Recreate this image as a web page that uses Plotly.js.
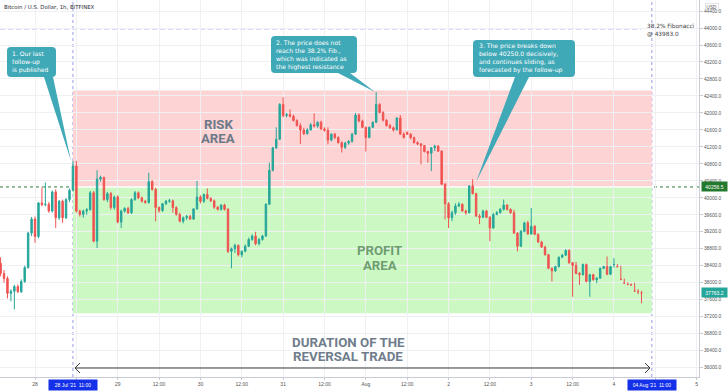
<!DOCTYPE html>
<html><head><meta charset="utf-8">
<script src="https://cdn.plot.ly/plotly-3.0.1.min.js"></script>
<style>html,body{margin:0;padding:0;background:#fff}#chart{width:728px;height:391px}</style>
</head><body><div id="chart"></div>
<script>
// ---- DATA: hourly BTC/USD candles, first candle 27 Jul 2021 14:00 ----
const firstCandle = '2021-07-27T14:00:00Z';
const open = [
38460,38220,38100,37750,37800,37910,37790,38030,38360,39170,39500,39090,39880,39840,39850,39690,40140,39530,39920,39530,39960,40180,40750,39690,39610,39690,39720,40120,38980,40440,40480,39960,40100,39770,40020,39430,39690,39750,39650,39960,40120,40000,39920,39890,40380,40200,39770,39700,39860,39920,39930,39770,39610,
39450,39530,39560,39500,39740,40020,39920,40080,39990,39930,39780,39730,39830,39730,38740,38800,38880,38660,38740,38860,39020,39100,38920,39020,39100,39850,40650,41180,41380,42200,41940,41960,41920,41820,41700,41600,41510,41600,41720,41690,41780,41620,41590,41360,41500,41420,41300,41190,41290,41330,41500,41950,41810,41660,41420,41660,41780,42200,42010,41830,41700,41650,41600,41880,41500,41540,41500,41420,41300,41270,41230,41090,41050,41180,41220,
41100,40320,39860,39530,39650,39810,39850,39690,39650,40280,40100,39570,39540,39690,39540,39290,39610,39650,39730,39830,39730,39650,39170,38860,39210,39410,39150,39330,39140,38960,38840,38660,38340,38280,38380,38600,38650,38760,38470,38410,38220,38190,38430,38030,38190,38070,38110,38340,38380,38200,38430,38380,38080,37990,37960,37950,37810,37790,37760
];
const high = [
38600,38300,38150,37850,37950,37960,38080,38400,39200,39550,39560,39900,40240,40360,39900,40170,40200,39950,39960,39990,40220,40870,40870,39720,39720,39760,40160,40160,40650,40520,40500,40140,40140,40050,40060,39720,39780,39790,39990,40160,40150,40030,39950,40590,40420,40240,39800,39880,39950,39980,39960,39800,39650,
39560,39600,39600,39760,40400,40060,40100,40220,40010,39960,39810,39850,39860,39760,38830,38920,38900,38760,38900,39060,39140,39200,39050,39130,39870,40830,41200,41660,42230,42370,42000,42080,41960,41850,41760,41650,41640,41760,41990,41800,41820,41660,41660,41520,41530,41450,41330,41320,41360,41530,42000,41990,41840,41680,41680,41800,42490,42230,42040,41850,41740,41680,41900,41950,41540,41560,41520,41440,41330,41290,41240,41110,41200,41250,41240,
41120,40350,39900,39700,39870,39900,39870,39720,40300,40440,40120,39620,39720,39720,39570,39640,39690,39760,39960,39850,39750,39720,39190,39240,39440,39460,39760,39360,39160,38990,38870,38680,38360,38400,38620,38680,38790,38790,38490,38490,38250,38450,38450,38210,38210,38130,38360,38400,38620,38400,38580,38440,38400,38100,38010,37980,38000,37850,37810,37790
];
const low = [
38150,38000,37630,37560,37370,37760,37760,38000,38330,39100,38940,39050,39800,39800,39650,39650,39290,39480,39410,39500,39900,40150,39650,39560,39530,39600,39700,38950,38820,40380,39930,39900,39720,39720,39400,39290,39650,39620,39620,39930,39970,39890,39860,39860,40170,39450,39650,39670,39830,39880,39650,39580,39420,
39400,39480,39480,39480,39720,39870,39880,39960,39900,39740,39700,39700,39700,38700,38340,38700,38620,38600,38720,38840,38990,38880,38880,38990,39080,39830,40620,41150,41360,41900,41900,41900,41800,41680,41270,41480,41490,41590,41660,41650,41600,41560,41260,41330,41380,41280,41070,41150,41250,41300,41480,41780,41640,41090,41400,41640,41760,41990,41800,41680,41620,41560,41590,41480,41400,41480,41380,41280,41240,40790,41070,40830,40630,41100,41080,
40300,39490,39290,39450,39600,39780,39670,39600,39630,40080,39550,39380,39520,39520,38980,39270,39590,39630,39700,39700,39620,39150,38740,38840,39190,39130,39130,39120,38940,38820,38640,38320,38030,38250,38360,38580,38630,38450,37670,38200,37950,38170,38010,37670,38050,37990,38090,38320,38180,38180,38360,38360,38060,37970,37940,37930,37790,37730,37515,37720
];
const close = [
38220,38100,37750,37800,37910,37790,38030,38360,39170,39500,39090,39880,39840,39850,39690,40140,39530,39920,39530,39960,40180,40750,39690,39610,39690,39720,40120,38980,40440,40480,39960,40100,39770,40020,39430,39690,39750,39650,39960,40120,40000,39920,39890,40380,40200,39770,39700,39860,39920,39930,39770,39610,39450,
39530,39560,39500,39740,40020,39920,40080,39990,39930,39780,39730,39830,39730,38740,38800,38880,38660,38740,38860,39020,39100,38920,39020,39100,39850,40650,41180,41380,42200,41940,41960,41920,41820,41700,41600,41510,41600,41720,41690,41780,41620,41590,41360,41500,41420,41300,41190,41290,41330,41500,41950,41810,41660,41420,41660,41780,42200,42010,41830,41700,41650,41600,41880,41500,41420,41500,41420,41300,41270,41230,41090,41050,41180,41220,41100,
40320,39860,39530,39650,39810,39850,39690,39650,40280,40100,39570,39540,39690,39540,39290,39610,39650,39730,39830,39730,39650,39170,38860,39210,39410,39150,39330,39140,38960,38840,38660,38340,38280,38380,38600,38650,38760,38470,38410,38220,38190,38430,38030,38190,38070,38110,38340,38380,38200,38380,38430,38380,38080,37990,37960,37950,37810,37790,37760,37763.2
];

// key levels
const fibLevel = 43983.0;
const breakLevel = 40256.5;
const lastPrice = 37763.2;
const riskTop = 42530;
const profitBottom = 37280;
const tradeStart = '2021-07-28 11:00';
const tradeEnd = '2021-08-04 11:00';

// axis ticks
const xTickVals = ['2021-07-28','2021-07-28 12:00','2021-07-29','2021-07-29 12:00','2021-07-30','2021-07-30 12:00','2021-07-31','2021-07-31 12:00','2021-08-01','2021-08-01 12:00','2021-08-02','2021-08-02 12:00','2021-08-03','2021-08-03 12:00','2021-08-04','2021-08-04 12:00','2021-08-05'];
const xTickText = ['28','','29','12:00','30','12:00','31','12:00','Aug','12:00','2','12:00','3','12:00','4','','5'];
const yTickVals = [36000,36400,36800,37200,37600,38000,38400,38800,39200,39600,40000,40400,40800,41200,41600,42000,42400,42800,43200,43600,44000,44400];
const yTickText = yTickVals.map(v => v.toFixed(1));

// callout texts
const callout1 = ['1. Our last', 'follow-up', 'is published'];
const callout2 = ['2. The price does not', 'reach the 38.2% Fib.,', 'which was indicated as', 'the highest resistance'];
const callout3 = ['3. The price breaks down', 'below 40250.0 decisively,', 'and continues sliding, as', 'forecasted by the follow-up'];

// ---- build ----
const t0 = Date.parse(firstCandle);
const times = close.map((_, i) => new Date(t0 + i * 3600e3).toISOString().slice(0, 16).replace('T', ' '));

const PW = 699, PH = 377;
const px = x => x / PW;
const py = y => 1 - y / PH;
const P = (x, y) => px(x).toFixed(5) + ',' + py(y).toFixed(5);

function callout(x0, y0, x1, y1, r, ba, bb, tx, ty) {
  return 'M' + P(x0 + r, y0) + ' L' + P(x1 - r, y0) + ' Q' + P(x1, y0) + ' ' + P(x1, y0 + r) +
    ' L' + P(x1, y1 - r) + ' Q' + P(x1, y1) + ' ' + P(x1 - r, y1) +
    ' L' + P(bb, y1) + ' L' + P(tx, ty) + ' L' + P(ba, y1) +
    ' L' + P(x0 + r, y1) + ' Q' + P(x0, y1) + ' ' + P(x0, y1 - r) +
    ' L' + P(x0, y0 + r) + ' Q' + P(x0, y0) + ' ' + P(x0 + r, y0) + ' Z';
}

const trace = {
  type: 'candlestick', x: times, open: open, high: high, low: low, close: close,
  increasing: {line: {color: '#26a69a', width: 1}, fillcolor: '#26a69a'},
  decreasing: {line: {color: '#ef5350', width: 1}, fillcolor: '#ef5350'},
  whiskerwidth: 0, hoverinfo: 'skip'
};

const teal = '#40a9b7';
const shapes = [
  {type: 'line', xref: 'paper', x0: 0, x1: 1, yref: 'y', y0: breakLevel, y1: breakLevel, line: {color: '#2f7d3b', width: 1, dash: 'dot'}, layer: 'below'},
  {type: 'rect', xref: 'x', yref: 'y', x0: tradeStart, x1: tradeEnd, y0: breakLevel, y1: riskTop, fillcolor: '#fdd3d3', line: {width: 0}, layer: 'below'},
  {type: 'rect', xref: 'x', yref: 'y', x0: tradeStart, x1: tradeEnd, y0: profitBottom, y1: breakLevel, fillcolor: '#ccf8c4', line: {width: 0}, layer: 'below'},
  {type: 'line', xref: 'x', yref: 'y', x0: tradeStart, x1: tradeEnd, y0: breakLevel, y1: breakLevel, line: {color: '#ffffff', width: 1.5}, layer: 'below'},
  {type: 'line', xref: 'paper', x0: 0, x1: px(641), yref: 'y', y0: fibLevel, y1: fibLevel, line: {color: '#6468ee', width: 1, dash: '5px,3px'}, layer: 'between'},
  {type: 'line', xref: 'x', yref: 'paper', x0: tradeStart, x1: tradeStart, y0: 0, y1: 1, line: {color: '#9a9ae6', width: 1, dash: 'dot'}, layer: 'between'},
  {type: 'line', xref: 'x', yref: 'paper', x0: tradeEnd, x1: tradeEnd, y0: 0, y1: 1, line: {color: '#9a9ae6', width: 1, dash: 'dot'}, layer: 'between'},
  // duration arrow
  {type: 'line', xref: 'paper', yref: 'paper', x0: px(75), x1: px(650), y0: py(368), y1: py(368), line: {color: '#3a3a3a', width: 1}, layer: 'above'},
  {type: 'path', xref: 'paper', yref: 'paper', path: 'M' + P(80, 363) + ' L' + P(75, 368) + ' L' + P(80, 373), line: {color: '#3a3a3a', width: 1}, layer: 'above'},
  {type: 'path', xref: 'paper', yref: 'paper', path: 'M' + P(645, 363) + ' L' + P(650, 368) + ' L' + P(645, 373), line: {color: '#3a3a3a', width: 1}, layer: 'above'},
  // callouts
  {type: 'path', xref: 'paper', yref: 'paper', path: callout(7, 47, 56, 77, 4, 44, 53, 71, 161), fillcolor: teal, line: {width: 0}, layer: 'above'},
  {type: 'path', xref: 'paper', yref: 'paper', path: callout(271, 36, 357, 73, 4, 338, 350, 375, 92), fillcolor: teal, line: {width: 0}, layer: 'above'},
  {type: 'path', xref: 'paper', yref: 'paper', path: callout(473, 40, 575, 77, 4, 515, 529, 476, 182), fillcolor: teal, line: {width: 0}, layer: 'above'}
];

const cFont = {family: 'DejaVu Sans', size: 6.1, color: '#ffffff'};
function lineAnn(text, x, y, font) {
  return {xref: 'paper', yref: 'paper', x: px(x), y: py(y), xanchor: 'left', yanchor: 'middle', align: 'left', text: text, showarrow: false, font: font};
}
function centerAnn(text, x, y, font) {
  return {xref: 'paper', yref: 'paper', x: px(x), y: py(y), xanchor: 'center', yanchor: 'middle', text: text, showarrow: false, font: font};
}

const areaFont = (c, s) => ({family: 'Roboto', size: s, color: c, weight: 'bold'});
const annotations = [
  lineAnn(callout1.join('<br>'), 10, 62, cFont),
  lineAnn(callout2.join('<br>'), 274, 54.5, cFont),
  lineAnn(callout3.join('<br>'), 477, 58.5, cFont),
  centerAnn('RISK', 218, 124.5, areaFont('#6c7988', 13.2)),
  centerAnn('AREA', 218, 138.5, areaFont('#6c7988', 13.2)),
  centerAnn('PROFIT', 380, 251, areaFont('#6e9d71', 13.2)),
  centerAnn('AREA', 380, 265, areaFont('#6e9d71', 13.2)),
  centerAnn('DURATION OF THE', 348, 342.5, areaFont('#6f7d8c', 13.3)),
  centerAnn('REVERSAL TRADE', 348, 356, areaFont('#6f7d8c', 13.3)),
  lineAnn('38.2% Fibonacci<br>@ 43983.0', 645, 29.5, {family: 'DejaVu Sans', size: 5.8, color: '#444'}),
  {xref: 'x', yref: 'paper', x: tradeStart, y: py(378.5), xanchor: 'center', yanchor: 'top', text: "28 Jul '21&nbsp;&nbsp;11:00", showarrow: false,
   font: {family: 'Liberation Sans', size: 5, color: '#ffffff'}, bgcolor: '#1430e8', borderpad: 2, width: 44, height: 6},
  {xref: 'x', yref: 'paper', x: tradeEnd, y: py(378.5), xanchor: 'center', yanchor: 'top', text: "04 Aug '21&nbsp;&nbsp;11:00", showarrow: false,
   font: {family: 'Liberation Sans', size: 5, color: '#ffffff'}, bgcolor: '#1430e8', borderpad: 2, width: 44, height: 6},
  {xref: 'paper', yref: 'y', x: px(701), y: breakLevel, xanchor: 'left', yanchor: 'middle', text: breakLevel.toFixed(1), showarrow: false,
   font: {family: 'Liberation Sans', size: 5, color: '#ffffff'}, bgcolor: '#237a2f', borderpad: 1.5, width: 22},
  {xref: 'paper', yref: 'y', x: px(701), y: lastPrice, xanchor: 'left', yanchor: 'middle', text: lastPrice.toFixed(1), showarrow: false,
   font: {family: 'Liberation Sans', size: 5, color: '#ffffff'}, bgcolor: '#26a69a', borderpad: 1.5, width: 22},
  {xref: 'paper', yref: 'paper', x: px(712), y: py(7), xanchor: 'center', yanchor: 'middle', text: 'USD', showarrow: false,
   font: {family: 'Liberation Sans', size: 4.6, color: '#555'}, bordercolor: '#cfd2d8', borderwidth: 0.6, borderpad: 1}
];

const layout = {
  width: 728, height: 391,
  margin: {l: 0, r: 29, t: 0, b: 14},
  paper_bgcolor: '#ffffff', plot_bgcolor: '#ffffff',
  showlegend: false,
  boxgap: 0.4,
  title: {text: 'Bitcoin / U.S. Dollar, 1h, BITFINEX', x: 4 / 728, xanchor: 'left', y: 1 - 7 / 391, yanchor: 'middle',
          font: {family: 'DejaVu Sans', size: 5.4, color: '#2a2e39'}},
  xaxis: {
    type: 'date', range: ['2021-07-27 13:50', '2021-08-05 00:41'],
    tickmode: 'array', tickvals: xTickVals, ticktext: xTickText,
    tickfont: {family: 'Liberation Sans', size: 5, color: '#555'},
    showgrid: true, gridcolor: '#eef0f4', gridwidth: 1,
    showline: true, linecolor: '#c8cbd2', linewidth: 1,
    ticks: 'outside', ticklen: 2, tickcolor: '#c8cbd2',
    rangeslider: {visible: false}, fixedrange: true, zeroline: false
  },
  yaxis: {
    side: 'right', range: [35780, 44660],
    tickmode: 'array', tickvals: yTickVals, ticktext: yTickText,
    tickfont: {family: 'Liberation Sans', size: 4.8, color: '#555'},
    showgrid: true, gridcolor: '#eef0f4', gridwidth: 1,
    showline: true, linecolor: '#c8cbd2', linewidth: 1,
    ticks: 'outside', ticklen: 3, tickcolor: '#c8cbd2',
    fixedrange: true, zeroline: false
  },
  shapes: shapes,
  annotations: annotations
};

Plotly.newPlot('chart', [trace], layout, {staticPlot: true, displayModeBar: false});
</script>
</body></html>
